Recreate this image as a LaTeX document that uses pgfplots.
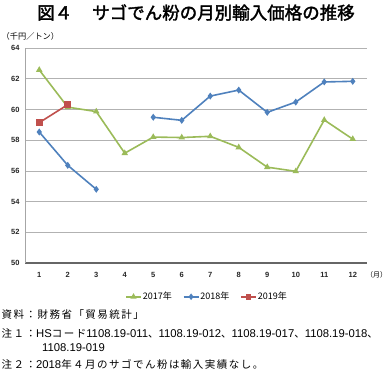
\documentclass[border=0pt]{standalone}
\usepackage{fontspec}
\setmainfont{Liberation Sans}
\newfontfamily\jp{Noto Sans CJK JP}
\newfontfamily\jpn{Noto Sans CJK JP}[LetterSpace=14]
\newfontfamily\jpb{Noto Sans CJK JP}[FakeBold=2]
\usepackage{pgfplots}
\pgfplotsset{compat=1.18}
\definecolor{c17}{RGB}{155,187,89}
\definecolor{c18}{RGB}{79,129,189}
\definecolor{c19}{RGB}{192,80,77}
\newcommand{\J}[1]{{\fontsize{10.5}{11}\selectfont\jpn #1}}
\begin{document}
\begin{tikzpicture}[x=1pt,y=1pt]
\path[use as bounding box] (0,0) rectangle (388,378);
\begin{axis}[
  at={(25pt,115pt)}, anchor=south west,
  scale only axis, width=342pt, height=215pt,
  xmin=0.5, xmax=12.5, ymin=50, ymax=64,
  xtick={1,...,12}, ytick={50,52,...,64},
  ymajorgrids, grid style={gray!60, line width=0.6pt},
  axis x line*=bottom, axis y line*=left,
  x axis line style={draw=gray!80!black, line width=1.5pt, -},
  y axis line style={draw=gray!70, line width=0.6pt, -},
  major tick length=0pt,
  tick label style={font=\fontsize{7.5}{8}\selectfont\bfseries, text=black!85},
  /pgf/number format/assume math mode=true,
  yticklabel style={xshift=-2pt},
  xticklabel style={yshift=-6pt},
  unbounded coords=jump,
  legend style={at={(0.531,-0.157)}, anchor=center, draw=none, fill=none,
    inner sep=0pt, font=\fontsize{9}{10}\selectfont\jp, legend columns=3,
    column sep=0pt, nodes={inner sep=1pt},
    /tikz/every even column/.append style={column sep=10pt}},
  legend image code/.code={\draw[mark repeat=2,mark phase=2,#1,mark size=2pt] plot coordinates {(0pt,0pt)(7.5pt,0pt)(15pt,0pt)};},
  every axis plot/.append style={line width=1.6pt, mark size=2.2pt},
]
\addplot[color=c17, mark=triangle*] coordinates {(1,62.57)(2,60.15)(3,59.86)(4,57.15)(5,58.2)(6,58.17)(7,58.25)(8,57.53)(9,56.24)(10,55.97)(11,59.31)(12,58.07)};
\addlegendentry{2017年}
\addplot[color=c18, mark=diamond*] coordinates {(1,58.53)(2,56.36)(3,54.8)(4,nan)(5,59.49)(6,59.29)(7,60.87)(8,61.26)(9,59.81)(10,60.48)(11,61.79)(12,61.83)};
\addlegendentry{2018年}
\addplot[color=c19, mark=square*, mark size=2.6pt] coordinates {(1,59.14)(2,60.31)};
\addlegendentry{2019年}
\end{axis}
\node[anchor=center, inner sep=0pt, font=\fontsize{17.5}{19}\selectfont\jpb] at (196,365.5) {図４\hspace{20pt}サゴでん粉の月別輸入価格の推移};
\node[anchor=west, inner sep=0pt, font=\fontsize{8.2}{9}\selectfont\jp] at (1.5,341.3) {（千円／トン）};
\node[anchor=center, inner sep=0pt, font=\fontsize{7}{8}\selectfont\jp] at (376.5,103) {（月）};
\begin{scope}[every node/.style={anchor=west, font=\fontsize{11.3}{12}\selectfont, inner sep=0pt}]
\node at (1.5,63) {\J{資料：財務省「貿易統計」}};
\node at (1.5,45) {\J{注１：}HS\J{コード}1108.19-011\J{、}1108.19-012\J{、}1108.19-017\J{、}1108.19-018{\fontsize{10.5}{11}\selectfont\jp 、}};
\node at (42,30) {1108.19-019};
\node at (1.5,14) {\J{注２：}2018\J{年４月のサゴでん粉は輸入実績なし。}};
\end{scope}
\end{tikzpicture}
\end{document}
